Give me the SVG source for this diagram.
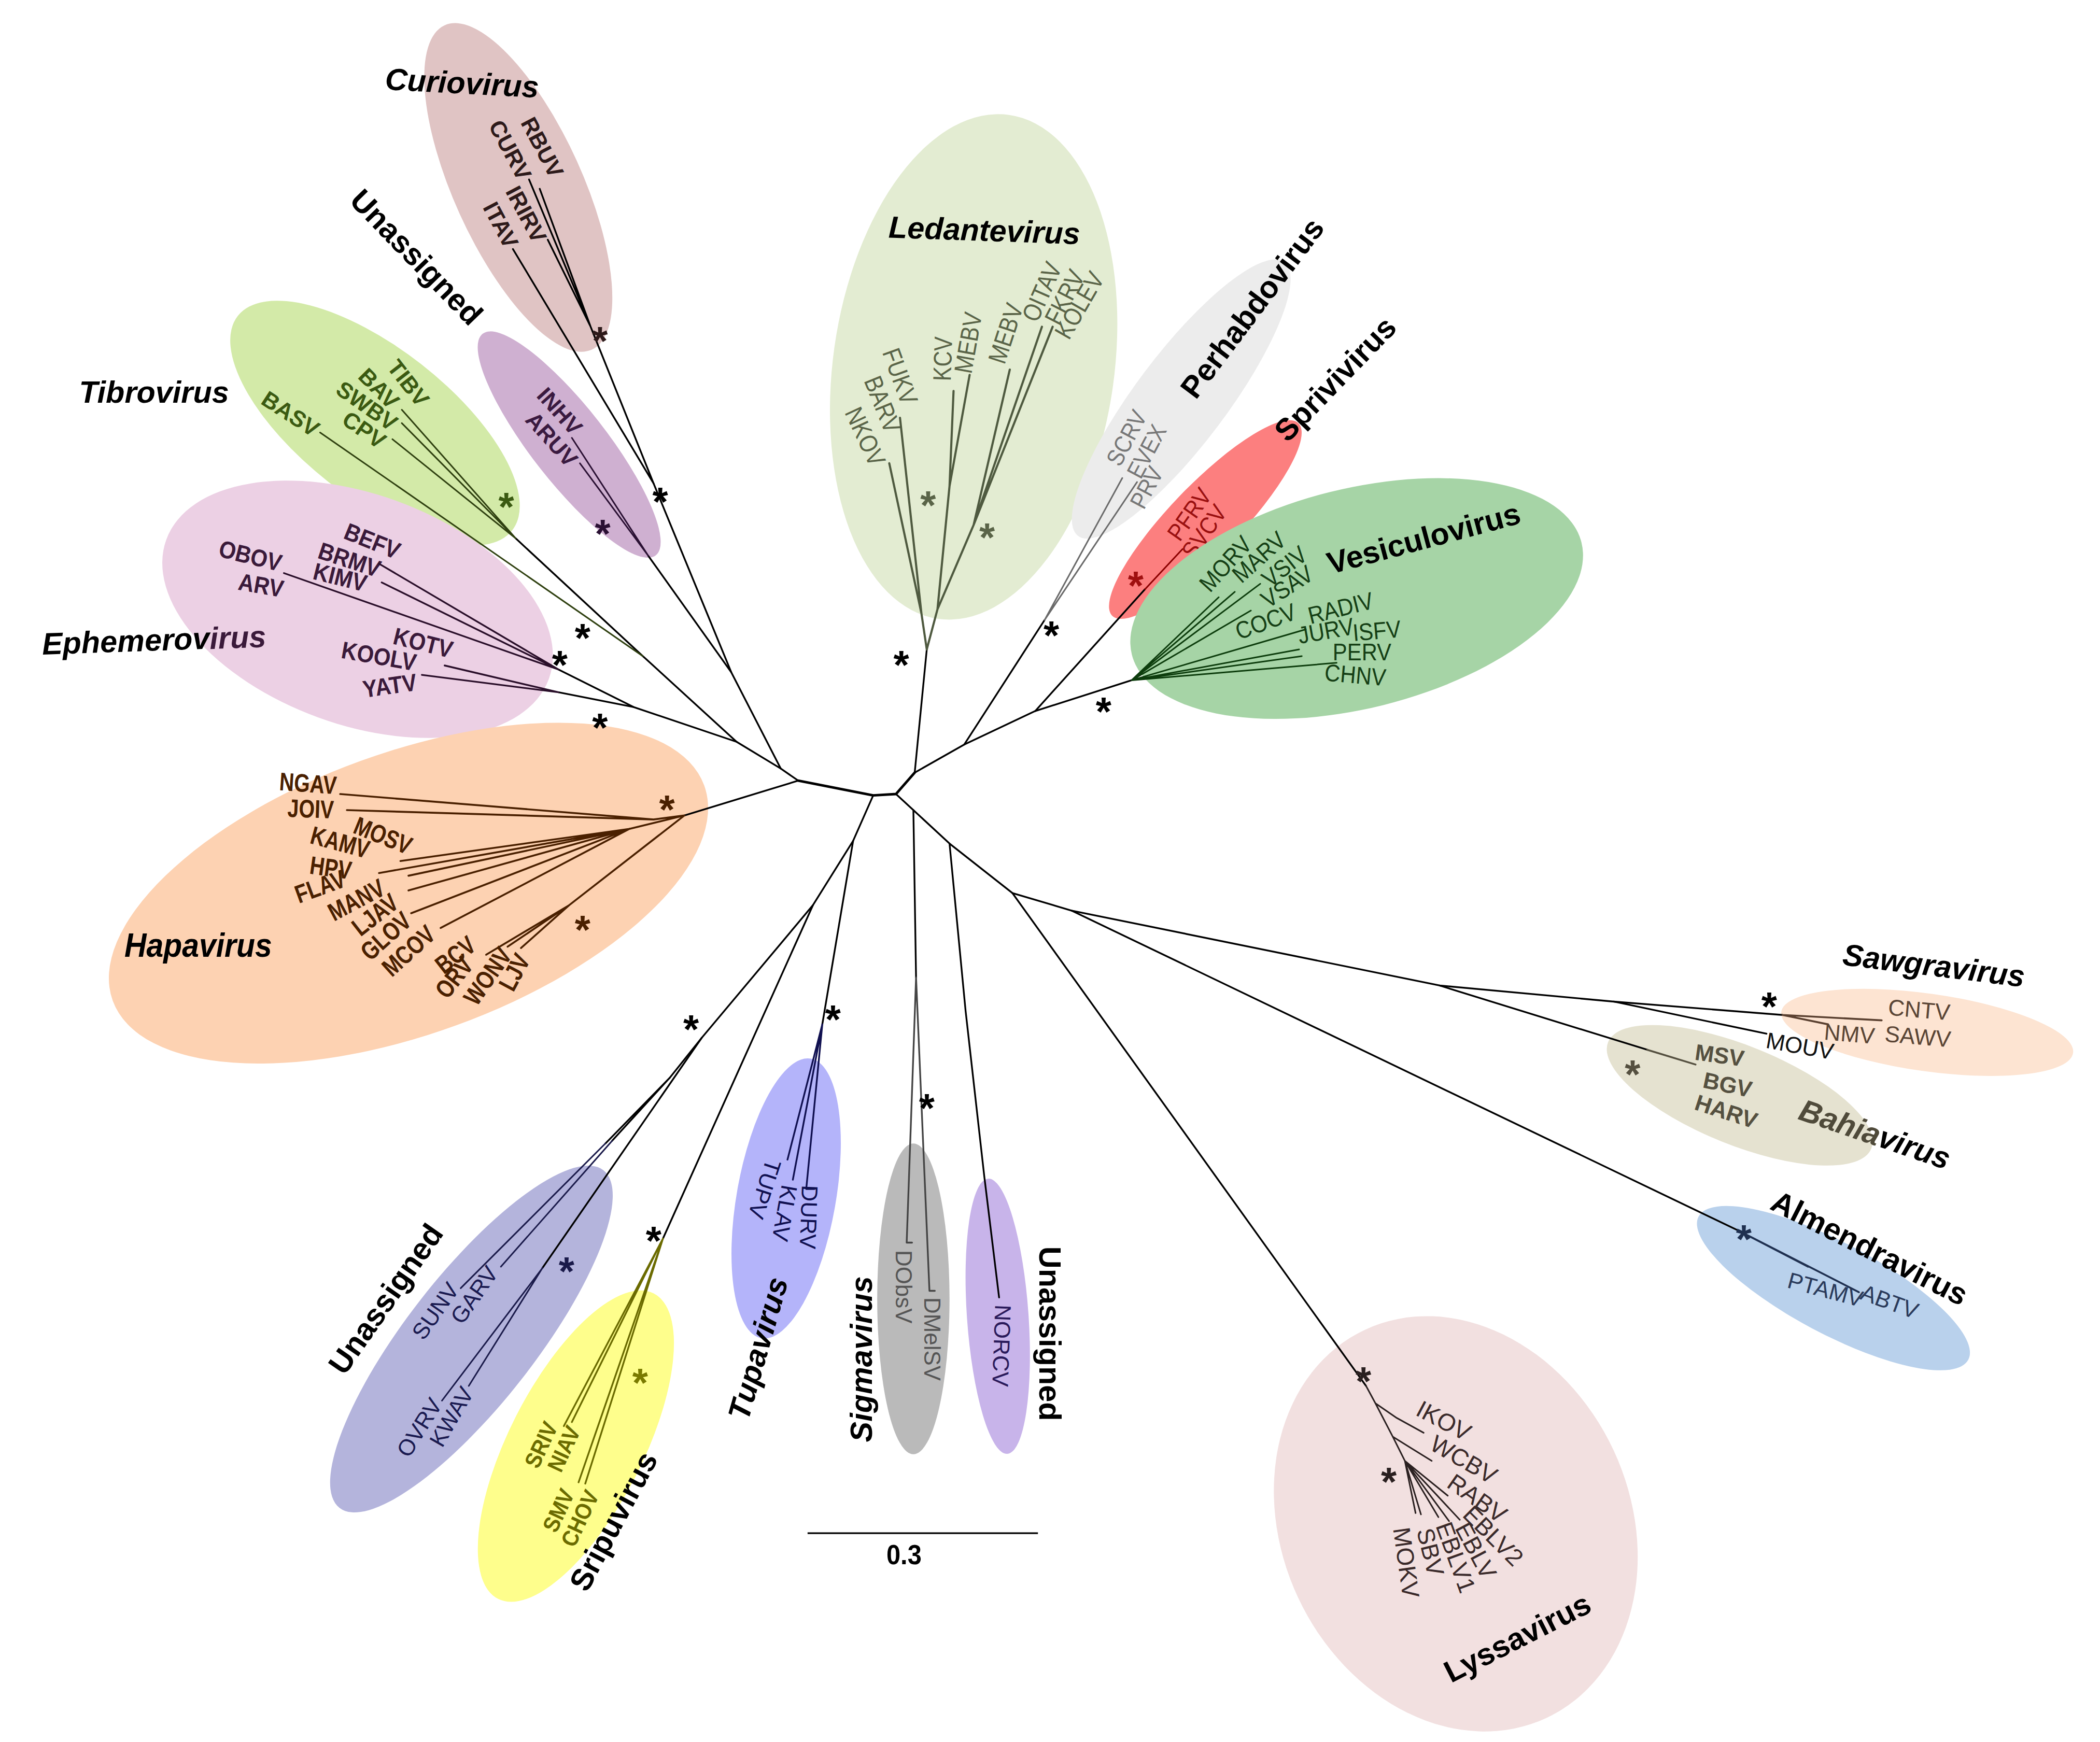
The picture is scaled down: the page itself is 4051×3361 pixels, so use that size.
<svg xmlns="http://www.w3.org/2000/svg" width="4051" height="3361" viewBox="0 0 4051 3361">
<style>
.lf{font-family:'Liberation Sans',Arial,sans-serif;font-size:17px;text-anchor:middle;dominant-baseline:central}
.b{font-weight:bold}
.cl{font-family:'Liberation Sans',Arial,sans-serif;font-size:23px;font-weight:bold;text-anchor:middle;dominant-baseline:central;fill:#000}
.it{font-style:italic}
.ast{font-family:'Liberation Sans',Arial,sans-serif;font-size:30px;font-weight:bold;text-anchor:middle}
.br{fill:none;stroke-linecap:round;stroke-linejoin:round}
</style>
<rect width="4051" height="3361" fill="#fff"/>
<g transform="scale(2.5835)">

<g id="clade-curiovirus" fill="#2d1a1a">
<ellipse cx="387" cy="140" rx="133" ry="48" transform="rotate(65.6 387 140)" fill="#e0c4c4"/>
<text class="cl it" transform="translate(345,62) rotate(3)">Curiovirus</text>
<text class="lf b" transform="translate(405,110) rotate(62)">RBUV</text>
<text class="lf b" transform="translate(381,112) rotate(62)">CURV</text>
<text class="lf b" transform="translate(393,160) rotate(62)">IRIRV</text>
<text class="lf b" transform="translate(374,168) rotate(62)">ITAV</text>
</g>

<g id="clade-unassigned-inhv" fill="#3a1a40">
<ellipse cx="425" cy="332" rx="105" ry="28" transform="rotate(52 425 332)" fill="#cfb0d1"/>
<text class="cl" transform="translate(311,192) rotate(46)">Unassigned</text>
<text class="lf b" transform="translate(418,307) rotate(48)">INHV</text>
<text class="lf b" transform="translate(412,328) rotate(48)">ARUV</text>
</g>

<g id="clade-tibrovirus" fill="#3b5a12">
<ellipse cx="280" cy="316" rx="130" ry="56" transform="rotate(38 280 316)" fill="#d3eaa8"/>
<text class="cl it" x="115" y="293">Tibrovirus</text>
<text class="lf b" transform="translate(305,286) rotate(52)">TIBV</text>
<text class="lf b" transform="translate(283,290) rotate(45)">BAV</text>
<text class="lf b" transform="translate(274,303) rotate(35)">SWBV</text>
<text class="lf b" transform="translate(272,321) rotate(35)">CPV</text>
<text class="lf b" transform="translate(217,309) rotate(33)">BASV</text>
</g>

<g id="clade-ephemerovirus" fill="#3a1a3a">
<ellipse cx="267" cy="455" rx="152" ry="86" transform="rotate(20 267 455)" fill="#ecd0e4"/>
<text class="cl it" transform="translate(115,478) rotate(-2)">Ephemerov<tspan fill="#3a1a3a">irus</tspan></text>
<text class="lf b" transform="translate(278,404) rotate(22) scale(.9,1)" style="font-size:18px">BEFV</text>
<text class="lf b" transform="translate(261,418) rotate(18) scale(.9,1)" style="font-size:18px">BRMV</text>
<text class="lf b" transform="translate(254,431) rotate(14) scale(.9,1)" style="font-size:18px">KIMV</text>
<text class="lf b" transform="translate(187,415) rotate(14) scale(.9,1)" style="font-size:18px">OBOV</text>
<text class="lf b" transform="translate(195,437) rotate(10) scale(.9,1)" style="font-size:18px">ARV</text>
<text class="lf b" transform="translate(316,480) rotate(14) scale(.9,1)" style="font-size:18px">KOTV</text>
<text class="lf b" transform="translate(283,490) rotate(10) scale(.9,1)" style="font-size:18px">KOOLV</text>
<text class="lf b" transform="translate(291,512) rotate(-8) scale(.9,1)" style="font-size:18px">YATV</text>
</g>

<g id="clade-hapavirus" fill="#4a2000">
<ellipse cx="305" cy="667" rx="235" ry="105" transform="rotate(-20 305 667)" fill="#fdd2b2"/>
<text class="cl it" transform="translate(148,706) scale(.95,1.05)" fill="#4a2000" style="font-size:24px">Hapavirus</text>
<text class="lf b" transform="translate(230,585) rotate(4) scale(.8,1)" style="font-size:19px">NGAV</text>
<text class="lf b" transform="translate(232,604) rotate(2) scale(.8,1)" style="font-size:19px">JOIV</text>
<text class="lf b" transform="translate(286,624) rotate(22) scale(.8,1)" style="font-size:19px">MOSV</text>
<text class="lf b" transform="translate(254,629) rotate(15) scale(.8,1)" style="font-size:19px">KAMV</text>
<text class="lf b" transform="translate(247,648) rotate(8) scale(.8,1)" style="font-size:19px">HPV</text>
<text class="lf b" transform="translate(239,662) rotate(-20) scale(.8,1)" style="font-size:19px">FLAV</text>
<text class="lf b" transform="translate(266,672) rotate(-28) scale(.8,1)" style="font-size:19px">MANV</text>
<text class="lf b" transform="translate(280,683) rotate(-38) scale(.8,1)" style="font-size:19px">LJAV</text>
<text class="lf b" transform="translate(288,699) rotate(-42) scale(.8,1)" style="font-size:19px">GLOV</text>
<text class="lf b" transform="translate(305,710) rotate(-42) scale(.8,1)" style="font-size:19px">MCOV</text>
<text class="lf b" transform="translate(340,713) rotate(-38) scale(.8,1)" style="font-size:19px">BCV</text>
<text class="lf b" transform="translate(339,730) rotate(-52) scale(.8,1)" style="font-size:19px">ORV</text>
<text class="lf b" transform="translate(364,729) rotate(-55) scale(.8,1)" style="font-size:19px">WONV</text>
<text class="lf b" transform="translate(384,726) rotate(-62) scale(.8,1)" style="font-size:19px">LJV</text>
</g>

<g id="clade-ledantevirus" fill="#5a6448">
<ellipse cx="727" cy="274" rx="105" ry="190" transform="rotate(8 727 274)" fill="#e3ecd2"/>
<text class="cl it" transform="translate(735,172) rotate(2)">Ledantevirus</text>
<text class="lf" transform="translate(672,281) rotate(70) scale(.85,1)" style="font-size:19px">FUKV</text>
<text class="lf" transform="translate(659,302) rotate(68) scale(.85,1)" style="font-size:19px">BARV</text>
<text class="lf" transform="translate(646,326) rotate(65) scale(.85,1)" style="font-size:19px">NKOV</text>
<text class="lf" transform="translate(704,268) rotate(-88) scale(.85,1)" style="font-size:19px">KCV</text>
<text class="lf" transform="translate(723,256) rotate(-80) scale(.85,1)" style="font-size:19px">MEBV</text>
<text class="lf" transform="translate(751,249) rotate(-72) scale(.85,1)" style="font-size:19px">MEBV</text>
<text class="lf" transform="translate(778,218) rotate(-66) scale(.85,1)" style="font-size:19px">OITAV</text>
<text class="lf" transform="translate(795,222) rotate(-63) scale(.85,1)" style="font-size:19px">FKRV</text>
<text class="lf" transform="translate(806,228) rotate(-60) scale(.85,1)" style="font-size:19px">KOLEV</text>
</g>

<g id="clade-perhabdovirus" fill="#777">
<ellipse cx="882" cy="298" rx="128" ry="34" transform="rotate(-53 882 298)" fill="#ececec"/>
<text class="cl" transform="translate(935,230) rotate(-53)">Perhabdovirus</text>
<text class="lf" transform="translate(841,327) rotate(-62) scale(.88,1)" style="font-size:18px">SCRV</text>
<text class="lf" transform="translate(856,337) rotate(-62) scale(.88,1)" style="font-size:18px">EVEX</text>
<text class="lf" transform="translate(856,364) rotate(-62) scale(.88,1)" style="font-size:18px">PRV</text>
</g>

<g id="clade-sprivivirus" fill="#9a1010">
<ellipse cx="900" cy="388" rx="100" ry="26" transform="rotate(-46 900 388)" fill="#fc7f7f"/>
<text class="cl" transform="translate(997,283) rotate(-46)">Sprivivirus</text>
<text class="lf" transform="translate(888,384) rotate(-55) scale(.9,1)" style="font-size:18px">PFRV</text>
<text class="lf" transform="translate(899,397) rotate(-55) scale(.9,1)" style="font-size:18px">SVCV</text>
</g>

<g id="clade-vesiculovirus" fill="#153f15">
<ellipse cx="1013" cy="447" rx="173" ry="82" transform="rotate(-14 1013 447)" fill="#a6d4a6"/>
<text class="cl" transform="translate(1063,402) rotate(-15)">Vesiculovirus</text>
<text class="lf" transform="translate(915,421) rotate(-48) scale(.9,1)" style="font-size:18px">MORV</text>
<text class="lf" transform="translate(940,416) rotate(-42) scale(.9,1)" style="font-size:18px">MARV</text>
<text class="lf" transform="translate(959,423) rotate(-38) scale(.9,1)" style="font-size:18px">VSIV</text>
<text class="lf" transform="translate(961,438) rotate(-33) scale(.9,1)" style="font-size:18px">VSAV</text>
<text class="lf" transform="translate(945,464) rotate(-20) scale(.9,1)" style="font-size:18px">COCV</text>
<text class="lf" transform="translate(1001,454) rotate(-14) scale(.9,1)" style="font-size:18px">RADIV</text>
<text class="lf" transform="translate(990,471) rotate(-10) scale(.9,1)" style="font-size:18px">JURV</text>
<text class="lf" transform="translate(1028,471) rotate(-5) scale(.9,1)" style="font-size:18px">ISFV</text>
<text class="lf" transform="translate(1017,487) scale(.9,1)" style="font-size:18px">PERV</text>
<text class="lf" transform="translate(1012,504) rotate(5) scale(.9,1)" style="font-size:18px">CHNV</text>
</g>

<g id="clade-sawgravirus" fill="#5a4535">
<ellipse cx="1439" cy="771" rx="110" ry="29" transform="rotate(8 1439 771)" fill="#fde4d2"/>
<text class="cl it" transform="translate(1444,721) rotate(7)">Sawgravirus</text>
<text class="lf" transform="translate(1433,754) rotate(5)">CNTV</text>
<text class="lf" transform="translate(1432,774) rotate(5)">SAWV</text>
<text class="lf" transform="translate(1381,772) rotate(5)">NMV</text>
<text class="lf" transform="translate(1344,781) rotate(10)" fill="#111">MOUV</text>
</g>

<g id="clade-bahiavirus" fill="#555040">
<ellipse cx="1299" cy="818" rx="106" ry="37" transform="rotate(22 1299 818)" fill="#e5e2d0"/>
<text class="cl it" transform="translate(1400,847) rotate(19)"><tspan fill="#4f4a3a">Bahia</tspan>virus</text>
<text class="lf b" transform="translate(1284,788) rotate(8)">MSV</text>
<text class="lf b" transform="translate(1290,810) rotate(12)">BGV</text>
<text class="lf b" transform="translate(1289,830) rotate(18)">HARV</text>
</g>

<g id="clade-almendravirus" fill="#2a3a5a">
<ellipse cx="1369" cy="962" rx="114" ry="34" transform="rotate(28 1369 962)" fill="#b9d1ec"/>
<text class="cl" transform="translate(1396,932) rotate(27)">Almendravirus</text>
<text class="lf" transform="translate(1363,963) rotate(15)">PTAMV</text>
<text class="lf" transform="translate(1411,972) rotate(20)">ABTV</text>
</g>

<g id="clade-lyssavirus" fill="#3a2a2a">
<ellipse cx="1087" cy="1138" rx="130" ry="160" transform="rotate(-25 1087 1138)" fill="#f2e0e0"/>
<text class="cl" transform="translate(1133,1223) rotate(-27)">Lyssavirus</text>
<text class="lf" transform="translate(1078,1061) rotate(28)" style="font-size:18px">IKOV</text>
<text class="lf" transform="translate(1093,1090) rotate(30)" style="font-size:18px">WCBV</text>
<text class="lf" transform="translate(1103,1119) rotate(35)" style="font-size:18px">RABV</text>
<text class="lf" transform="translate(1115,1147) rotate(45)" style="font-size:18px">EBLV2</text>
<text class="lf" transform="translate(1102,1158) rotate(62)" style="font-size:18px">EBLV</text>
<text class="lf" transform="translate(1087,1163) rotate(70)" style="font-size:18px">EBLV1</text>
<text class="lf" transform="translate(1068,1159) rotate(76)" style="font-size:18px">SBV</text>
<text class="lf" transform="translate(1050,1167) rotate(82)" style="font-size:18px">MOKV</text>
</g>

<g id="clade-unassigned-ovrv" fill="#1a1a50">
<ellipse cx="352" cy="1000" rx="160" ry="48" transform="rotate(-52 352 1000)" fill="#b4b4dc"/>
<text class="cl" transform="translate(288,970) rotate(-55)">Unassigned</text>
<text class="lf" transform="translate(325,979) rotate(-55)">SUNV</text>
<text class="lf" transform="translate(354,967) rotate(-55)">GARV</text>
<text class="lf" transform="translate(313,1066) rotate(-58)">OVRV</text>
<text class="lf" transform="translate(337,1058) rotate(-60)">KWAV</text>
</g>

<g id="clade-sripuvirus" fill="#6b6b00">
<ellipse cx="430" cy="1080" rx="128" ry="50" transform="rotate(-63 430 1080)" fill="#fefe8c"/>
<text class="cl" transform="translate(458,1136) rotate(-62)">Sripuvirus</text>
<text class="lf b" transform="translate(404,1079) rotate(-65) scale(.9,1)">SRIV</text>
<text class="lf b" transform="translate(421,1082) rotate(-65) scale(.9,1)">NIAV</text>
<text class="lf b" transform="translate(417,1128) rotate(-65) scale(.9,1)">SMV</text>
<text class="lf b" transform="translate(433,1134) rotate(-65) scale(.9,1)">CHOV</text>
</g>

<g id="clade-tupavirus" fill="#101050">
<ellipse cx="587" cy="895" rx="37" ry="106" transform="rotate(10 587 895)" fill="#b4b4fa"/>
<text class="cl it" transform="translate(566,1007) rotate(-74)">Tupavirus</text>
<text class="lf" transform="translate(571,888) rotate(108)">TUPV</text>
<text class="lf" transform="translate(586,906) rotate(100)">KLAV</text>
<text class="lf" transform="translate(604,909) rotate(92)">DURV</text>
</g>

<g id="clade-sigmavirus" fill="#555">
<ellipse cx="682" cy="970" rx="27" ry="116" fill="#bababa"/>
<text class="cl it" transform="translate(643,1015) rotate(-90)">Sigmavirus</text>
<text class="lf" transform="translate(675,961) rotate(90)">DObsV</text>
<text class="lf" transform="translate(696,1000) rotate(90)">DMelSV</text>
</g>

<g id="clade-unassigned-norcv" fill="#2a1a5a">
<ellipse cx="745" cy="983" rx="23" ry="103" transform="rotate(-4 745 983)" fill="#c8b4ea"/>
<text class="cl" transform="translate(784,996) rotate(90)">Unassigned</text>
<text class="lf" transform="translate(748,1005) rotate(92)">NORCV</text>
</g>

<g id="connectors" class="br">
<g stroke="#000" stroke-width="1.3">
<path d="M596,583 L511,609"/>
<path d="M596,583 L583,574 L546,502 L488,361"/>
<path d="M546,502 L484,415"/>
<path d="M583,574 L550,554 L480,490 L385,402"/>
<path d="M550,554 L473,528 L417,500"/>
<path d="M473,528 L417,517"/>
<path d="M683,577 L692,485"/>
<path d="M683,577 L720,556 L773,531 L845,508"/>
<path d="M720,556 L780,463"/>
<path d="M773,531 L855,440"/>
<path d="M652,594 L637,628 L607,676 L524,775 L500,805"/>
<path d="M524,775 L405,947"/>
<path d="M607,676 L495,925"/>
<path d="M637,628 L614,765"/>
<path d="M669,593 L682,605 L684,730"/>
<path d="M682,605 L709,630 L756,667 L1020,1035"/>
<path d="M709,630 L721,755 L735,879 L746,969"/>
<path d="M756,667 L800,680 L1075,736 L1205,748 L1331,758"/>
<path d="M1205,748 L1319,772"/>
<path d="M1075,736 L1230,784"/>
<path d="M800,680 L1300,920"/>
<path d="M488,361 L441,244 L403,141 M441,244 L395,134 M441,244 L409,179 M488,361 L383,186"/>
<path d="M500,805 L452,854 M500,805 L457,852"/>
</g>
<path d="M596,583 L652,594 L669,593 L683,577" stroke="#000" stroke-width="1.9"/>
<g stroke-width="1.15">
<path stroke="#2a1033" d="M484,415 L427,327 M484,415 L433,346"/>
<path stroke="#2f4010" d="M385,402 L300,306 M385,402 L300,316 M385,402 L293,328 M480,490 L239,323"/>
<path stroke="#2a0f2a" stroke-width="1.3" d="M417,500 L283,421 M417,500 L285,435 M417,500 L212,428 M417,517 L332,497 M417,517 L315,504"/>
<path stroke="#4a2000" stroke-width="1.4" d="M511,609 L488,612 L254,593 M488,612 L259,605 M511,609 L470,619 L299,643 M470,619 L283,652 M470,619 L305,654 M470,619 L305,665 M470,619 L307,682 M470,619 L329,693 M511,609 L425,676 L363,713 M425,676 L379,707 M425,676 L389,708"/>
<path stroke="#4f5a40" stroke-width="1.6" d="M692,485 L688,458 L672,312 M688,458 L664,346 M692,485 L700,455 L709,363 L712,292 M709,363 L724,280 M700,455 L727,392 L754,276 M727,392 L778,244 M727,392 L786,244"/>
<path stroke="#6a6a6a" d="M780,463 L838,357 M780,463 L849,360"/>
<path stroke="#8b0000" d="M855,440 L883,410"/>
<path stroke="#0d3d0d" d="M845,508 L910,446 M845,508 L922,442 M845,508 L941,436 M845,508 L934,456 M845,508 L975,470 M845,508 L970,485 M845,508 L972,490 M845,508 L998,495"/>
<path stroke="#5a4030" stroke-width="1.4" d="M1331,758 L1405,762 M1331,758 L1365,765"/>
<path stroke="#555040" stroke-width="1.4" d="M1230,784 L1266,795"/>
<path stroke="#1f3050" stroke-width="1.4" d="M1300,920 L1388,965 M1300,920 L1350,946"/>
<path stroke="#2a2020" d="M1020,1035 L1027,1048 L1043,1059 L1063,1070 M1027,1048 L1040,1073 L1069,1091 M1040,1073 L1049,1091 L1081,1117 M1049,1091 L1090,1135 M1049,1091 L1082,1136 M1049,1091 L1074,1133 M1049,1091 L1061,1131 M1049,1091 L1057,1130"/>
<path stroke="#1a1a4a" d="M452,854 L344,962 M457,852 L374,946 M405,947 L330,1046 M405,947 L350,1035"/>
<path stroke="#6b6b00" stroke-width="1.3" d="M495,925 L421,1065 M495,925 L427,1062 M495,925 L432,1107 M495,925 L437,1108"/>
<path stroke="#101050" stroke-width="1.3" d="M614,765 L588,866 M614,765 L592,881 M614,765 L602,888 L608,888"/>
<path stroke="#444" stroke-width="1.3" d="M684,730 L677,928 L681,928 M684,730 L694,964 L698,964"/>
</g>
</g>

<g id="support-markers">
<text class="ast" x="448" y="265" fill="#2d1a1a">*</text>
<text class="ast" x="493" y="385">*</text>
<text class="ast" x="450" y="409" fill="#2a1033">*</text>
<text class="ast" x="378" y="389" fill="#3b5a12">*</text>
<text class="ast" x="435" y="487">*</text>
<text class="ast" x="418" y="507">*</text>
<text class="ast" x="448" y="554">*</text>
<text class="ast" x="498" y="615" fill="#4a2000">*</text>
<text class="ast" x="435" y="705" fill="#4a2000">*</text>
<text class="ast" x="516" y="779">*</text>
<text class="ast" x="423" y="960" fill="#1a1a4a">*</text>
<text class="ast" x="488" y="937">*</text>
<text class="ast" x="478" y="1043" fill="#7a7a00">*</text>
<text class="ast" x="622" y="772">*</text>
<text class="ast" x="692" y="838">*</text>
<text class="ast" x="673" y="507">*</text>
<text class="ast" x="693" y="388" fill="#5a6448">*</text>
<text class="ast" x="737" y="412" fill="#5a6448">*</text>
<text class="ast" x="785" y="485">*</text>
<text class="ast" x="848" y="448" fill="#a01010">*</text>
<text class="ast" x="824" y="542">*</text>
<text class="ast" x="1321" y="762">*</text>
<text class="ast" x="1219" y="813" fill="#555040">*</text>
<text class="ast" x="1302" y="936" fill="#1f3050">*</text>
<text class="ast" x="1018" y="1042" fill="#2a2020">*</text>
<text class="ast" x="1037" y="1117" fill="#2a2020">*</text>
</g>

<g id="scale-bar">
<path d="M603,1145 L775,1145" stroke="#000" stroke-width="1.2" fill="none"/>
<text class="lf b" transform="translate(675,1161) scale(.9,1)" style="font-size:21px">0.3</text>
</g>
</g>
</svg>
